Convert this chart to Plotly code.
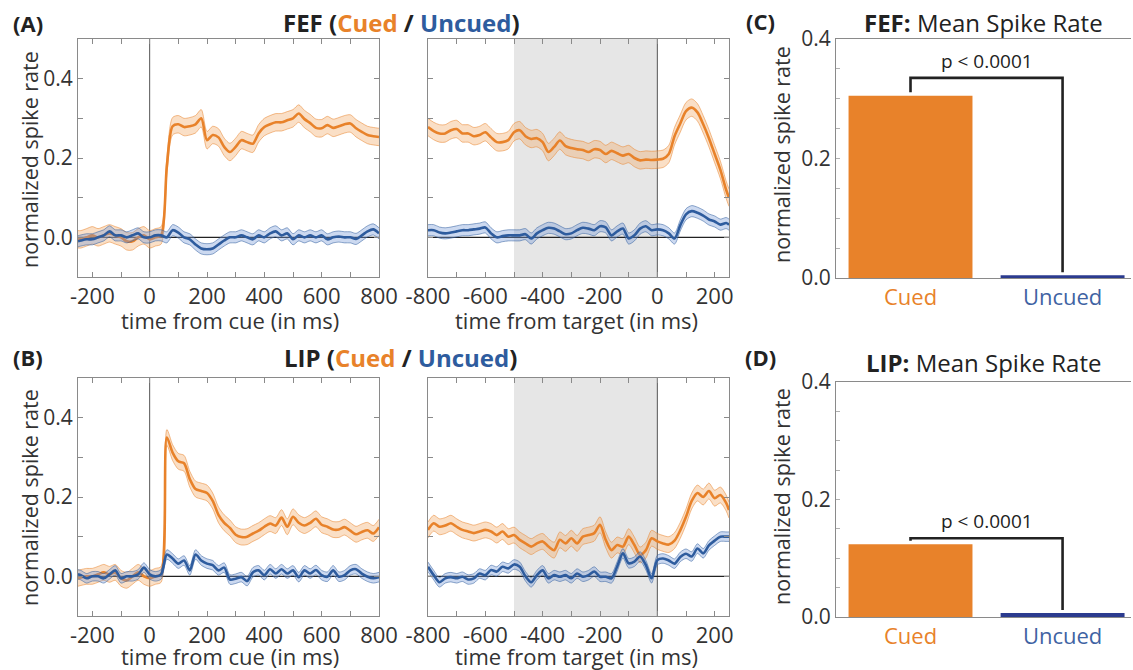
import plotly.graph_objects as go

W, H = 1133, 670
FONT = "Open Sans"
TXT = "#333333"
AX = "#8a8a8a"
ORANGE = "#E8822A"
ORANGE_FILL = "rgba(243,170,105,0.38)"
ORANGE_EDGE = "rgba(232,130,42,0.75)"
BLUE = "#2E5C9E"
BLUE_FILL = "rgba(120,155,215,0.38)"
BLUE_EDGE = "rgba(46,92,158,0.75)"
BAR_ORANGE = "#E8822A"
BAR_BLUE = "#2B3B8F"

# ---- time bases (ms) ----
t_cue = [-250] + list(range(-240, 801, 20))
t_tgt = list(range(-800, 241, 20)) + [250]

# ---- FEF, aligned to cue ----
fef_cue_cued = [-0.005, -0.005, 0.000, 0.005, 0.000, 0.005, 0.010, 0.005, 0.000, -0.010,
                -0.010, 0.000, 0.005, -0.005, 0.000, 0.005, 0.180, 0.280, 0.285, 0.278,
                0.280, 0.285, 0.300, 0.245, 0.258, 0.252, 0.228, 0.215, 0.228, 0.245,
                0.240, 0.236, 0.262, 0.278, 0.285, 0.290, 0.290, 0.295, 0.300, 0.312,
                0.298, 0.288, 0.276, 0.275, 0.283, 0.276, 0.280, 0.285, 0.287, 0.275,
                0.266, 0.258, 0.255, 0.253]
fef_cue_uncued = [-0.010, -0.008, -0.005, -0.005, 0.000, 0.005, 0.015, 0.005, 0.005, 0.000,
                  0.005, 0.010, 0.000, 0.000, 0.005, 0.005, 0.000, 0.018, 0.012, 0.000,
                  -0.005, -0.018, -0.028, -0.030, -0.028, -0.018, -0.008, 0.000, 0.000, 0.005,
                  0.000, -0.005, 0.005, 0.000, 0.010, 0.015, 0.005, 0.010, -0.005, 0.005,
                  0.000, 0.005, 0.000, 0.005, -0.005, 0.000, 0.002, 0.000, 0.000, -0.004,
                  0.005, 0.015, 0.020, 0.010]

# ---- FEF, aligned to target ----
fef_tgt_cued = [0.278, 0.268, 0.262, 0.262, 0.270, 0.273, 0.262, 0.262, 0.255, 0.258,
                0.265, 0.252, 0.240, 0.240, 0.245, 0.265, 0.270, 0.255, 0.248, 0.250,
                0.240, 0.215, 0.228, 0.244, 0.230, 0.225, 0.222, 0.220, 0.215, 0.222,
                0.220, 0.210, 0.218, 0.212, 0.206, 0.210, 0.200, 0.194, 0.196, 0.195,
                0.196, 0.198, 0.210, 0.255, 0.287, 0.318, 0.327, 0.315, 0.285, 0.250,
                0.210, 0.170, 0.120, 0.100]
fef_tgt_uncued = [0.018, 0.018, 0.012, 0.010, 0.012, 0.015, 0.018, 0.018, 0.020, 0.022,
                  0.025, 0.010, 0.000, 0.003, 0.005, 0.005, 0.005, 0.008, -0.003, 0.010,
                  0.018, 0.024, 0.022, 0.015, 0.008, 0.010, 0.018, 0.024, 0.022, 0.018,
                  0.028, 0.025, 0.005, 0.015, 0.022, -0.003, 0.005, 0.022, 0.028, 0.018,
                  0.020, 0.018, 0.010, -0.003, 0.030, 0.058, 0.066, 0.062, 0.055, 0.045,
                  0.040, 0.032, 0.036, 0.032]

# ---- LIP, aligned to cue ----
lip_cue_cued = [-0.005, -0.003, 0.000, 0.000, 0.005, 0.010, 0.005, 0.010, -0.005, -0.010,
                0.000, 0.010, 0.000, -0.005, 0.000, 0.005, 0.350, 0.312, 0.290, 0.285,
                0.245, 0.220, 0.215, 0.210, 0.190, 0.155, 0.135, 0.122, 0.105, 0.099,
                0.100, 0.108, 0.115, 0.125, 0.133, 0.128, 0.148, 0.125, 0.150, 0.135,
                0.128, 0.135, 0.145, 0.130, 0.125, 0.118, 0.118, 0.124, 0.115, 0.106,
                0.112, 0.116, 0.108, 0.124]
lip_cue_uncued = [0.005, 0.003, -0.005, 0.000, 0.000, -0.005, 0.005, 0.015, -0.005, 0.000,
                  0.000, 0.005, 0.022, 0.005, 0.000, 0.005, 0.055, 0.045, 0.032, 0.040,
                  0.015, 0.055, 0.040, 0.032, 0.028, 0.015, 0.022, -0.008, -0.006, -0.002,
                  -0.012, 0.010, 0.015, 0.003, 0.018, 0.007, 0.018, 0.007, 0.015, -0.002,
                  0.015, 0.007, 0.016, 0.003, -0.001, 0.015, -0.001, 0.003, 0.015, 0.018,
                  0.007, -0.001, -0.005, -0.002]

# ---- LIP, aligned to target ----
lip_tgt_cued = [0.117, 0.134, 0.125, 0.128, 0.134, 0.125, 0.117, 0.113, 0.109, 0.113,
                0.117, 0.113, 0.104, 0.113, 0.100, 0.104, 0.092, 0.083, 0.075, 0.083,
                0.088, 0.075, 0.066, 0.092, 0.083, 0.096, 0.083, 0.100, 0.104, 0.109,
                0.130, 0.092, 0.066, 0.079, 0.075, 0.100, 0.079, 0.054, 0.066, 0.096,
                0.088, 0.083, 0.080, 0.090, 0.116, 0.150, 0.190, 0.210, 0.200, 0.215,
                0.197, 0.205, 0.185, 0.167]
lip_tgt_uncued = [0.024, 0.003, -0.015, -0.005, -0.002, -0.005, -0.001, -0.008, -0.005, 0.007,
                  0.003, 0.016, 0.012, 0.024, 0.020, 0.030, 0.024, 0.000, -0.015, 0.003,
                  0.015, -0.005, 0.003, -0.001, 0.003, -0.005, 0.007, -0.001, 0.003, 0.012,
                  -0.001, -0.001, -0.005, 0.025, 0.058, 0.033, 0.037, 0.050, 0.028, -0.005,
                  0.041, 0.045, 0.040, 0.032, 0.049, 0.057, 0.050, 0.070, 0.058, 0.078,
                  0.090, 0.100, 0.100, 0.100]

# standard error half-widths of the shaded bands
sem_fef_cued, sem_fef_uncued = 0.022, 0.014
sem_lip_cued, sem_lip_uncued = 0.020, 0.012

# ---- mean spike rate bars ----
bar_cats = ["Cued", "Uncued"]
fef_mean = [0.305, 0.0045]
lip_mean = [0.124, 0.0068]
sig_level = [0.335, 0.134]          # height of the significance bracket (FEF, LIP)
sig_text = "p < 0.0001"

for arr, t in [(fef_cue_cued, t_cue), (fef_cue_uncued, t_cue), (lip_cue_cued, t_cue),
               (lip_cue_uncued, t_cue), (fef_tgt_cued, t_tgt), (fef_tgt_uncued, t_tgt),
               (lip_tgt_cued, t_tgt), (lip_tgt_uncued, t_tgt)]:
    assert len(arr) == len(t)


def px_x(a, b):
    return [a / W, b / W]


def px_y(top, bottom):
    return [1 - bottom / H, 1 - top / H]


fig = go.Figure()


def add_band(t, m, sem, xa, ya, line_col, fill_col, edge_col):
    up = [v + sem for v in m]
    lo = [v - sem for v in m]
    common = dict(x=t, xaxis=xa, yaxis=ya, mode="lines", hoverinfo="skip", showlegend=False)
    fig.add_trace(go.Scatter(y=up, line=dict(color=edge_col, width=0.7, shape="spline", smoothing=0.8), **common))
    fig.add_trace(go.Scatter(y=lo, fill="tonexty", fillcolor=fill_col,
                             line=dict(color=edge_col, width=0.7, shape="spline", smoothing=0.8), **common))
    fig.add_trace(go.Scatter(y=m, line=dict(color=line_col, width=2.6, shape="spline", smoothing=0.8), **common))


panels = [
    ("x", "y", t_cue, fef_cue_cued, fef_cue_uncued, sem_fef_cued, sem_fef_uncued),
    ("x2", "y2", t_tgt, fef_tgt_cued, fef_tgt_uncued, sem_fef_cued, sem_fef_uncued),
    ("x4", "y4", t_cue, lip_cue_cued, lip_cue_uncued, sem_lip_cued, sem_lip_uncued),
    ("x5", "y5", t_tgt, lip_tgt_cued, lip_tgt_uncued, sem_lip_cued, sem_lip_uncued),
]
for xa, ya, t, mc, mu, sc, su in panels:
    add_band(t, mc, sc, xa, ya, ORANGE, ORANGE_FILL, ORANGE_EDGE)
    add_band(t, mu, su, xa, ya, BLUE, BLUE_FILL, BLUE_EDGE)

# bars + significance brackets
bar_x = list(range(len(bar_cats)))
for xa, ya, vals, sig in [("x3", "y3", fef_mean, sig_level[0]), ("x6", "y6", lip_mean, sig_level[1])]:
    fig.add_trace(go.Bar(x=bar_x, y=vals, xaxis=xa, yaxis=ya, width=0.815,
                         marker=dict(color=[BAR_ORANGE, BAR_BLUE], line=dict(width=0)),
                         hoverinfo="skip", showlegend=False))
    fig.add_trace(go.Scatter(x=[bar_x[0], bar_x[0], bar_x[1], bar_x[1]],
                             y=[vals[0] + 0.006, sig, sig, vals[1] + 0.005],
                             xaxis=xa, yaxis=ya, mode="lines",
                             line=dict(color="#222222", width=2.6),
                             hoverinfo="skip", showlegend=False))

tickfont = dict(family=FONT, size=22, color=TXT)
ytickfont = dict(family=FONT, size=21, color=TXT)


def ts_xaxis(dom, lo, hi, first_lab):
    vals = list(range(first_lab, hi + 1, 100))
    text = [str(v) if (v - first_lab) % 200 == 0 else "" for v in vals]
    return dict(domain=dom, range=[lo, hi], tickvals=vals, ticktext=text, ticks="inside",
                ticklen=5, tickcolor=AX, showline=True, linecolor=AX, linewidth=1,
                mirror="ticks", showgrid=False, zeroline=False, tickfont=tickfont,
                automargin=False, fixedrange=True)


def ts_yaxis(dom, anchor, labels):
    return dict(domain=dom, anchor=anchor, range=[-0.1, 0.5],
                tickvals=[0, 0.1, 0.2, 0.3, 0.4], ticktext=["0.0", "", "0.2", "", "0.4"],
                showticklabels=labels, ticks="inside", ticklen=5, tickcolor=AX,
                showline=True, linecolor=AX, linewidth=1, mirror="ticks", showgrid=False,
                zeroline=False, tickfont=ytickfont, automargin=False, fixedrange=True)


def bar_xaxis(dom, anchor):
    return dict(domain=dom, anchor=anchor, range=[-0.49, 1.45], tickvals=bar_x,
                ticktext=["<span style='color:%s'>%s</span>" % (BAR_ORANGE, bar_cats[0]),
                          "<span style='color:#3F63A3'>%s</span>" % bar_cats[1]],
                ticks="", showline=True, linecolor=AX, linewidth=1, mirror=True,
                showgrid=False, zeroline=False, tickfont=tickfont, automargin=False,
                fixedrange=True)


def bar_yaxis(dom, anchor):
    vals = [0, 0.05, 0.1, 0.15, 0.2, 0.25, 0.3, 0.35, 0.4]
    text = ["0.0", "", "", "", "0.2", "", "", "", "0.4"]
    return dict(domain=dom, anchor=anchor, range=[0, 0.4], tickvals=vals, ticktext=text,
                ticks="inside", ticklen=4, tickcolor="#b0b0b0", showline=True, linecolor=AX,
                linewidth=1, showgrid=False, zeroline=False, tickfont=ytickfont,
                automargin=False, fixedrange=True)


TOP_Y = px_y(39, 277)
BOT_Y = px_y(378, 616)
LEFT_X = px_x(78, 379)
MID_X = px_x(428, 729)
BAR_X = px_x(836, 1131)

fig.update_layout(
    template="none",
    width=W, height=H, margin=dict(l=0, r=0, t=0, b=0, autoexpand=False),
    paper_bgcolor="white", plot_bgcolor="white", showlegend=False,
    font=dict(family=FONT, size=20, color=TXT),
    xaxis=dict(ts_xaxis(LEFT_X, -250, 800, -200), anchor="y"),
    yaxis=ts_yaxis(TOP_Y, "x", True),
    xaxis2=dict(ts_xaxis(MID_X, -800, 250, -800), anchor="y2"),
    yaxis2=ts_yaxis(TOP_Y, "x2", False),
    xaxis3=bar_xaxis(BAR_X, "y3"),
    yaxis3=bar_yaxis(px_y(39, 278), "x3"),
    xaxis4=dict(ts_xaxis(LEFT_X, -250, 800, -200), anchor="y4"),
    yaxis4=ts_yaxis(BOT_Y, "x4", True),
    xaxis5=dict(ts_xaxis(MID_X, -800, 250, -800), anchor="y5"),
    yaxis5=ts_yaxis(BOT_Y, "x5", False),
    xaxis6=bar_xaxis(BAR_X, "y6"),
    yaxis6=bar_yaxis(px_y(382, 617), "x6"),
)

# shading of the pre-target window, event markers and zero baselines
shapes = []
for xa, ya in [("x2", "y2"), ("x5", "y5")]:
    shapes.append(dict(type="rect", xref=xa, yref=ya, x0=-500, x1=0, y0=-0.1, y1=0.5,
                       fillcolor="#e6e6e6", line=dict(width=0), layer="below"))
for xa, ya, lo, hi in [("x", "y", -250, 800), ("x2", "y2", -800, 250),
                       ("x4", "y4", -250, 800), ("x5", "y5", -800, 250)]:
    shapes.append(dict(type="line", xref=xa, yref=ya, x0=0, x1=0, y0=-0.1, y1=0.5,
                       line=dict(color="#555555", width=1), layer="below"))
    shapes.append(dict(type="line", xref=xa, yref=ya, x0=lo, x1=hi, y0=0, y1=0,
                       line=dict(color="#222222", width=1.2), layer="below"))
fig.update_layout(shapes=shapes)

ann = []


def text(x, y, s, size=21, angle=0, color=TXT, xanchor="center"):
    ann.append(dict(x=x / W, y=1 - y / H, xref="paper", yref="paper", text=s,
                    showarrow=False, textangle=angle, xanchor=xanchor, yanchor="middle",
                    font=dict(family=FONT, size=size, color=color)))


title_cmp = "<b>%s (<span style='color:" + ORANGE + "'>Cued</span> / <span style='color:" + BLUE + "'>Uncued</span>)</b>"
text(28, 23, "<b>(A)</b>", 22, color="#222")
text(401, 23, title_cmp % "FEF", 24, color="#222")
text(28, 357, "<b>(B)</b>", 22, color="#222")
text(400, 357, title_cmp % "LIP", 24, color="#222")
text(760, 21, "<b>(C)</b>", 22, color="#222")
text(983, 23, "<b>FEF:</b> Mean Spike Rate", 24, color="#222")
text(760, 357, "<b>(D)</b>", 22, color="#222")
text(983, 362, "<b>LIP:</b> Mean Spike Rate", 24, color="#222")

for cx, cy in [(29, 160), (29, 498), (781, 155), (781, 497)]:
    text(cx, cy, "normalized spike rate", 21.5, angle=-90)
for cx, cy, s in [(230, 320, "time from cue (in ms)"), (577, 320, "time from target (in ms)"),
                  (230, 656, "time from cue (in ms)"), (577, 656, "time from target (in ms)")]:
    text(cx, cy, s, 22)

# p-value labels sit just above each bracket
for xa, ya, sig in [("x3", "y3", sig_level[0]), ("x6", "y6", sig_level[1])]:
    ann.append(dict(x=0.5, y=sig, xref=xa, yref=ya, text=sig_text, showarrow=False,
                    yanchor="bottom", yshift=2, font=dict(family=FONT, size=19, color="#222")))

fig.update_layout(annotations=ann)
fig.write_html("out.html")
